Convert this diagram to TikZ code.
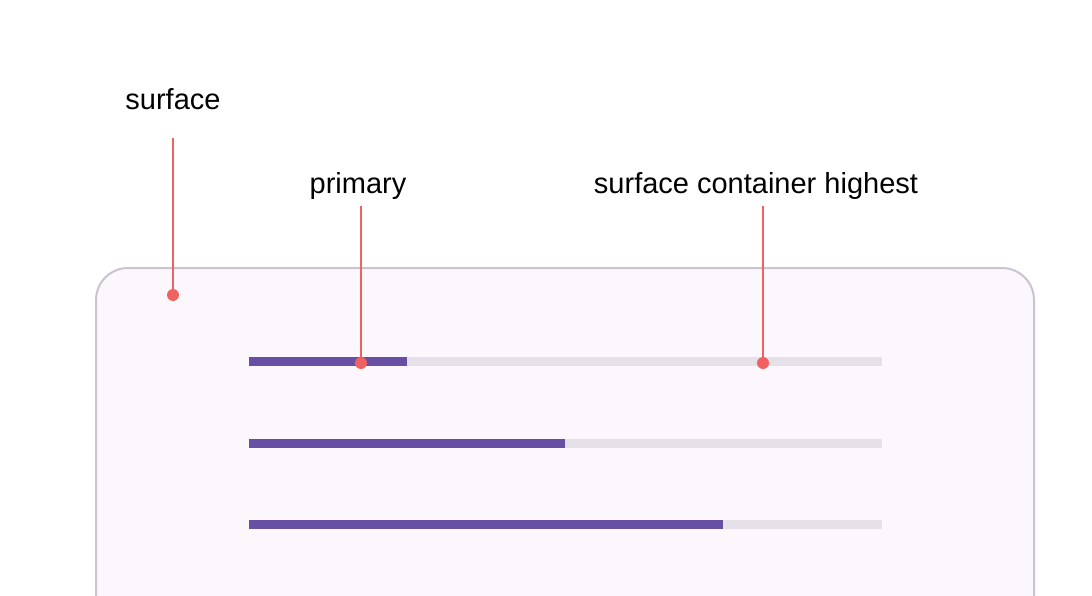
\documentclass[tikz,border=0pt]{standalone}
\usepackage{fontspec}
\setmainfont{Liberation Sans}
\definecolor{framefill}{HTML}{FCF7FD}
\definecolor{framedraw}{HTML}{CAC4D0}
\definecolor{trackc}{HTML}{E6E0E9}
\definecolor{primc}{HTML}{6750A4}
\definecolor{pointc}{HTML}{F06262}
\begin{document}
\begin{tikzpicture}[x=1pt,y=-1pt,
  lbl/.style={font=\fontsize{29}{33}\selectfont, text=black, inner sep=0pt, anchor=base},
  track/.style={fill=trackc, draw=none},
  bar/.style={fill=primc, draw=none},
  pointer/.style={draw=pointc, line width=2pt},
  dotc/.style={circle, fill=pointc, inner sep=0pt, minimum size=12pt}]
\useasboundingbox (0,0) rectangle (1092,596);
\fill[white] (0,0) rectangle (1092,596);
% frame
\draw[fill=framefill, draw=framedraw, line width=2pt, rounded corners=32pt]
  (96,620) -- (96,268) -- (1034,268) -- (1034,620);
% tracks and bars
\foreach \y/\e in {361/407, 443/565, 524/723} {
  \fill[track] (249,\y-4.5) rectangle (882,\y+4.5);
  \fill[bar] (249,\y-4.5) rectangle (\e,\y+4.5);
}
% labels
\node[lbl] (lsurf) at (173,110) {surface};
\node[lbl] (lprim) at (358,194) {primary};
\node[lbl] (lsch) at (756,194) {surface container highest};
\coordinate (tsurf) at (173,138);
\coordinate (tprim) at (361,206);
\coordinate (tsch) at (763,206);
\node[dotc] (dsurf) at (173,295) {};
\node[dotc] (dprim) at (361,363) {};
\node[dotc] (dsch) at (763,363) {};
\draw[pointer] (tsurf) -- (dsurf.center);
\draw[pointer] (tprim) -- (dprim.center);
\draw[pointer] (tsch) -- (dsch.center);
\end{tikzpicture}
\end{document}
